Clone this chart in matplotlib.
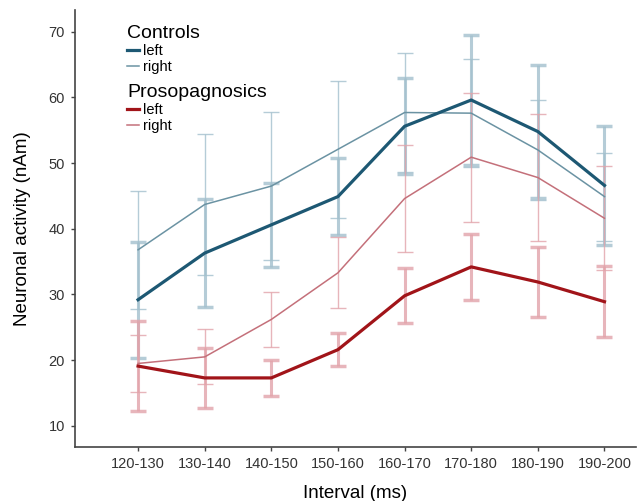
import numpy as np
import matplotlib.pyplot as plt
from matplotlib.lines import Line2D

plt.rcParams['font.family'] = ['Liberation Sans', 'DejaVu Sans']

intervals = ['120-130', '130-140', '140-150', '150-160',
             '160-170', '170-180', '180-190', '190-200']

ctrl_left = [29.2, 36.3, 40.6, 44.9, 55.6, 59.6, 54.8, 46.6]
ctrl_left_err = [8.8, 8.2, 6.4, 5.8, 7.3, 9.9, 10.1, 9.1]
ctrl_right = [36.8, 43.7, 46.5, 52.1, 57.7, 57.6, 52.0, 44.9]
ctrl_right_err = [9.0, 10.8, 11.3, 10.4, 9.0, 8.2, 7.6, 6.7]
pros_left = [19.1, 17.3, 17.3, 21.6, 29.8, 34.2, 31.9, 28.9]
pros_left_err = [6.8, 4.6, 2.7, 2.5, 4.2, 5.0, 5.3, 5.4]
pros_right = [19.5, 20.5, 26.2, 33.3, 44.6, 50.9, 47.8, 41.6]
pros_right_err = [4.3, 4.2, 4.2, 5.4, 8.1, 9.8, 9.6, 7.9]

x = np.arange(len(intervals))

blue_dark = '#1d5873'
blue_thin = '#6b93a3'
blue_err = '#a3c0cd'
red_dark = '#a11419'
red_thin = '#c4707a'
red_err = '#e2a3aa'

fig = plt.figure(figsize=(6.39, 5.01), dpi=100)
ax = fig.add_axes([0.117, 0.108, 0.878, 0.872])

# error bars first, lines on top
ax.errorbar(x, ctrl_right, yerr=ctrl_right_err, fmt='none', ecolor=blue_err,
            elinewidth=1.0, capsize=6, capthick=1.0, alpha=0.8, zorder=1)
ax.errorbar(x, ctrl_left, yerr=ctrl_left_err, fmt='none', ecolor=blue_err,
            elinewidth=2.2, capsize=6, capthick=2.5, alpha=0.8, zorder=1)
ax.errorbar(x, pros_right, yerr=pros_right_err, fmt='none', ecolor=red_err,
            elinewidth=1.0, capsize=6, capthick=1.0, alpha=0.8, zorder=1)
ax.errorbar(x, pros_left, yerr=pros_left_err, fmt='none', ecolor=red_err,
            elinewidth=2.2, capsize=6, capthick=2.5, alpha=0.8, zorder=1)

ax.plot(x, ctrl_right, c=blue_thin, linewidth=1.1, zorder=3)
ax.plot(x, ctrl_left, c=blue_dark, linewidth=2.3, zorder=3)
ax.plot(x, pros_right, c=red_thin, linewidth=1.1, zorder=3)
ax.plot(x, pros_left, c=red_dark, linewidth=2.3, zorder=3)

ax.set_xlim(-0.95, 7.47)
ax.set_ylim(6.8, 73.3)
ax.set_xticks(x)
ax.set_xticklabels(intervals, fontsize=10.5, color='#333333')
ax.set_yticks([10, 20, 30, 40, 50, 60, 70])
ax.tick_params(axis='y', labelsize=10.5, labelcolor='#333333')
ax.tick_params(length=3, width=1, color='#444444', pad=4)

for s in ['top', 'right']:
    ax.spines[s].set_visible(False)
for s in ['left', 'bottom']:
    ax.spines[s].set_color('#444444')
    ax.spines[s].set_linewidth(1.2)

ax.set_xlabel('Interval (ms)', fontsize=13.5, labelpad=10)
ax.set_ylabel('Neuronal activity (nAm)', fontsize=13.5, labelpad=13)

h1 = [Line2D([], [], c=blue_dark, lw=2.3), Line2D([], [], c=blue_thin, lw=1.1)]
h2 = [Line2D([], [], c=red_dark, lw=2.3), Line2D([], [], c=red_thin, lw=1.1)]

leg1 = ax.legend(h1, ['left', 'right'], title='Controls', loc='upper left',
                 bbox_to_anchor=(0.075, 0.99), frameon=False, fontsize=10.5,
                 title_fontsize=14, handlelength=0.8, handletextpad=0.3,
                 labelspacing=0.15, borderpad=0.2)
leg1._legend_box.align = 'left'
ax.add_artist(leg1)
leg2 = ax.legend(h2, ['left', 'right'], title='Prosopagnosics', loc='upper left',
                 bbox_to_anchor=(0.075, 0.855), frameon=False, fontsize=10.5,
                 title_fontsize=14, handlelength=0.8, handletextpad=0.3,
                 labelspacing=0.15, borderpad=0.2)
leg2._legend_box.align = 'left'

fig.savefig('out.png', dpi=100)
